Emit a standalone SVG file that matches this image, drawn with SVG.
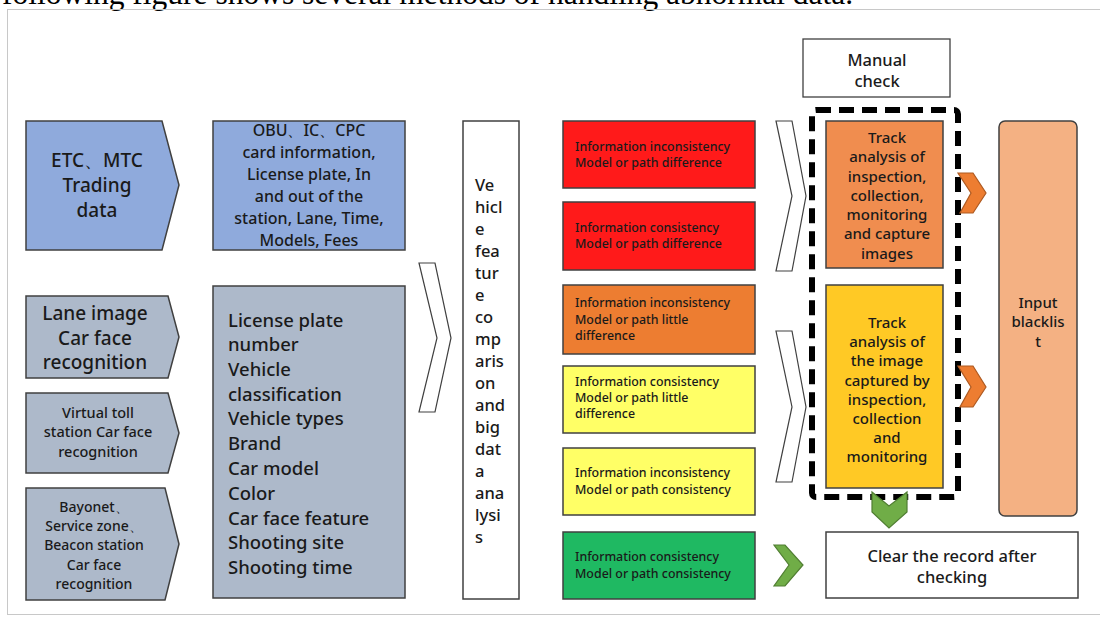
<svg xmlns="http://www.w3.org/2000/svg" width="1100" height="620" viewBox="0 0 1100 620">
<style>
  .t { font-family: "Noto Sans", "Liberation Sans", sans-serif; fill: #1a1a1a; font-weight: 500; }
  .c { text-anchor: middle; }
  .box { stroke: #404040; stroke-width: 1.5; }
  .hollow { fill: #ffffff; stroke: #404040; stroke-width: 1.2; }
  .cb { stroke: #404040; stroke-width: 1.5; }
  .ct { font-family: "Noto Sans", "Liberation Sans", sans-serif; fill: #1a1a1a; font-size: 12.4px; font-weight: 500; }
</style>
<rect x="0" y="0" width="1100" height="620" fill="#ffffff"/>
<text x="2" y="4" font-family="Liberation Serif, serif" font-size="31.5" fill="#000">following figure shows several methods of handling abnormal data.</text>
<rect x="7.5" y="9.5" width="1100" height="605" fill="none" stroke="#c8c8c8" stroke-width="1"/>

<g id="etc">
  <polygon class="box" points="26,121 162,121 179,185 162,250 26,250" fill="#8FAADC"/>
  <text class="t c" font-size="19"><tspan x="97" y="167">ETC、MTC</tspan><tspan x="97" y="192">Trading</tspan><tspan x="97" y="217">data</tspan></text>
</g>
<g id="obu">
  <rect class="box" x="213" y="121" width="192" height="129" fill="#8FAADC"/>
  <text class="t c" font-size="16"><tspan x="309" y="136">OBU、IC、CPC</tspan><tspan x="309" y="158">card information,</tspan><tspan x="309" y="180">License plate, In</tspan><tspan x="309" y="202">and out of the</tspan><tspan x="309" y="224">station, Lane, Time,</tspan><tspan x="309" y="246">Models, Fees</tspan></text>
</g>
<g id="lane">
  <polygon class="box" points="26,296 168,296 179,337 168,378 26,378" fill="#ADB9CA"/>
  <text class="t c" font-size="19"><tspan x="95" y="320">Lane image</tspan><tspan x="95" y="345">Car face</tspan><tspan x="95" y="369">recognition</tspan></text>
</g>
<g id="virtual">
  <polygon class="box" points="26,393 168,393 179,433 168,473 26,473" fill="#ADB9CA"/>
  <text class="t c" font-size="14.5"><tspan x="98" y="418">Virtual toll</tspan><tspan x="98" y="437">station Car face</tspan><tspan x="98" y="457">recognition</tspan></text>
</g>
<g id="bayonet">
  <polygon class="box" points="26,488 165,488 179,544 165,600 26,600" fill="#ADB9CA"/>
  <text class="t c" font-size="14"><tspan x="94" y="512">Bayonet、</tspan><tspan x="94" y="531">Service zone、</tspan><tspan x="94" y="550">Beacon station</tspan><tspan x="94" y="570">Car face</tspan><tspan x="94" y="589">recognition</tspan></text>
</g>
<g id="features">
  <rect class="box" x="213" y="286" width="192" height="312" fill="#ADB9CA"/>
  <text class="t" font-size="18.5"><tspan x="228" y="327">License plate</tspan><tspan x="228" y="351">number</tspan><tspan x="228" y="376">Vehicle</tspan><tspan x="228" y="401">classification</tspan><tspan x="228" y="425">Vehicle types</tspan><tspan x="228" y="450">Brand</tspan><tspan x="228" y="475">Car model</tspan><tspan x="228" y="500">Color</tspan><tspan x="228" y="525">Car face feature</tspan><tspan x="228" y="549">Shooting site</tspan><tspan x="228" y="574">Shooting time</tspan></text>
</g>
<g id="analysis">
  <rect class="box" x="463" y="121" width="56" height="478" fill="#ffffff"/>
  <text class="t" font-size="16.5"><tspan x="475" y="191">Ve</tspan><tspan x="475" y="213">hicl</tspan><tspan x="475" y="235">e</tspan><tspan x="475" y="257">fea</tspan><tspan x="475" y="279">tur</tspan><tspan x="475" y="301">e</tspan><tspan x="475" y="323">co</tspan><tspan x="475" y="345">mp</tspan><tspan x="475" y="367">aris</tspan><tspan x="475" y="389">on</tspan><tspan x="475" y="411">and</tspan><tspan x="475" y="433">big</tspan><tspan x="475" y="455">dat</tspan><tspan x="475" y="477">a</tspan><tspan x="475" y="499">ana</tspan><tspan x="475" y="521">lysi</tspan><tspan x="475" y="543">s</tspan></text>
</g>
<g id="c1">
  <rect class="cb" x="563" y="121" width="192" height="67" fill="#FF1A1A"/>
  <text class="ct"><tspan x="575" y="151">Information inconsistency</tspan><tspan x="575" y="167">Model or path difference</tspan></text>
</g>
<g id="c2">
  <rect class="cb" x="563" y="202" width="192" height="68" fill="#FF1A1A"/>
  <text class="ct"><tspan x="575" y="232">Information consistency</tspan><tspan x="575" y="248">Model or path difference</tspan></text>
</g>
<g id="c3">
  <rect class="cb" x="563" y="285" width="192" height="69" fill="#ED7D31"/>
  <text class="ct"><tspan x="575" y="307">Information inconsistency</tspan><tspan x="575" y="324">Model or path little</tspan><tspan x="575" y="340">difference</tspan></text>
</g>
<g id="c4">
  <rect class="cb" x="563" y="366" width="192" height="67" fill="#FFFF66"/>
  <text class="ct"><tspan x="575" y="386">Information consistency</tspan><tspan x="575" y="402">Model or path little</tspan><tspan x="575" y="418">difference</tspan></text>
</g>
<g id="c5">
  <rect class="cb" x="563" y="448" width="192" height="67" fill="#FFFF66"/>
  <text class="ct"><tspan x="575" y="477">Information inconsistency</tspan><tspan x="575" y="494">Model or path consistency</tspan></text>
</g>
<g id="c6">
  <rect class="cb" x="563" y="532" width="192" height="67" fill="#1FB962"/>
  <text class="ct"><tspan x="575" y="561">Information consistency</tspan><tspan x="575" y="578">Model or path consistency</tspan></text>
</g>
<g id="manual">
  <rect x="803" y="39" width="147" height="58" fill="#ffffff" stroke="#404040" stroke-width="1.3"/>
  <text class="t c" font-size="16.5"><tspan x="877" y="66">Manual</tspan><tspan x="877" y="87">check</tspan></text>
</g>
<g id="dashed">
  <rect x="812" y="110" width="146" height="387" rx="4" fill="none" stroke="#000" stroke-width="6" stroke-dasharray="15 8"/>
</g>
<g id="track1">
  <rect class="box" x="826" y="121" width="117" height="147" fill="#F08D4F"/>
  <text class="t c" font-size="15"><tspan x="887" y="143">Track</tspan><tspan x="887" y="162">analysis of</tspan><tspan x="887" y="182">inspection,</tspan><tspan x="887" y="201">collection,</tspan><tspan x="887" y="220">monitoring</tspan><tspan x="887" y="239">and capture</tspan><tspan x="887" y="259">images</tspan></text>
</g>
<g id="track2">
  <rect class="box" x="826" y="285" width="117" height="203" fill="#FFC925"/>
  <text class="t c" font-size="15"><tspan x="887" y="328">Track</tspan><tspan x="887" y="347">analysis of</tspan><tspan x="887" y="366">the image</tspan><tspan x="887" y="386">captured by</tspan><tspan x="887" y="405">inspection,</tspan><tspan x="887" y="424">collection</tspan><tspan x="887" y="443">and</tspan><tspan x="887" y="462">monitoring</tspan></text>
</g>
<g id="blacklist">
  <rect class="box" x="999" y="121" width="78" height="395" rx="6" fill="#F4B183"/>
  <text class="t c" font-size="15"><tspan x="1038" y="308">Input</tspan><tspan x="1038" y="327">blacklis</tspan><tspan x="1038" y="347">t</tspan></text>
</g>
<g id="clear">
  <rect class="box" x="826" y="532" width="252" height="66" fill="#ffffff"/>
  <text class="t c" font-size="16.5"><tspan x="952" y="562">Clear the record after</tspan><tspan x="952" y="583">checking</tspan></text>
</g>
<g id="connectors">
  <polygon class="hollow" points="419,263 435,263 451,338 435,412 419,412 437,338"/>
  <polygon class="hollow" points="776,121 792,121 806,196 792,271 776,271 792,196"/>
  <polygon class="hollow" points="776,331 792,331 806,407 792,482 776,482 792,407"/>
  <polygon points="958,173 973,173 986,193 973,213 960,213 971,193" fill="#ED7D31" stroke="#AE5A21" stroke-width="1.2"/>
  <polygon points="958,366 973,366 986,387 973,407 960,407 971,387" fill="#ED7D31" stroke="#AE5A21" stroke-width="1.2"/>
  <polygon points="774,545 785,545 803,565 785,586 774,586 789,565" fill="#70AD47" stroke="#507E32" stroke-width="1.2"/>
  <polygon points="872,492 889,506 907,492 907,512 889,528 872,512" fill="#70AD47" stroke="#507E32" stroke-width="1.2"/>
</g>
</svg>
